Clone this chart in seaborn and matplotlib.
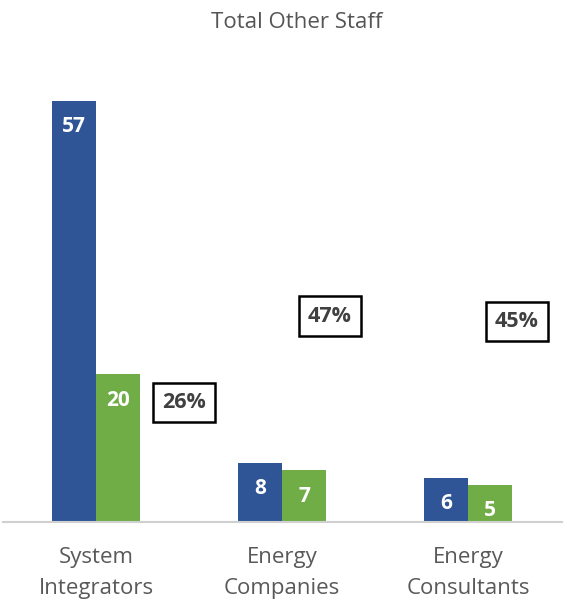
import matplotlib
matplotlib.use("Agg")
import matplotlib.pyplot as plt
import seaborn as sns
import pandas as pd

categories = ["System\nIntegrators", "Energy\nCompanies", "Energy\nConsultants"]
series_names = ["Series 1", "Series 2"]
series1 = [57, 8, 6]
series2 = [20, 7, 5]
pct_labels = ["26%", "47%", "45%"]
pct_x = [0.473, 1.258, 2.263]
pct_y = [16.2, 27.9, 27.1]

df = pd.DataFrame({
    "category": categories * 2,
    "series": [series_names[0]] * 3 + [series_names[1]] * 3,
    "value": series1 + series2,
})

sns.set_theme(style="white")
plt.rcParams["font.family"] = ["Open Sans", "DejaVu Sans"]

fig = plt.figure(figsize=(5.67, 6.04), dpi=100)
ax = fig.add_axes([3 / 567, 82 / 604, 559 / 567, 443 / 604])

sns.barplot(data=df, x="category", y="value", hue="series",
            palette=["#2F5597", "#70AD47"], width=0.475, saturation=1,
            legend=False, ax=ax, linewidth=0)

ax.set_xlim(-0.5, 2.505)
ax.set_ylim(0, 60)
ax.set_xlabel("")
ax.set_ylabel("")
ax.set_yticks([])
for s in ["top", "right", "left"]:
    ax.spines[s].set_visible(False)
ax.spines["bottom"].set_color("#d0d0d0")
ax.spines["bottom"].set_linewidth(1.5)
ax.tick_params(axis="x", length=0, pad=18, labelsize=16, colors="#595959")
for lbl in ax.get_xticklabels():
    lbl.set_linespacing(1.65)

for cont in ax.containers:
    for bar in cont:
        h = bar.get_height()
        x = bar.get_x() + bar.get_width() / 2
        ax.text(x, h - 3.5, f"{int(round(h))}", ha="center", va="center",
                color="white", fontsize=15, fontweight="bold")

for lab, x, y in zip(pct_labels, pct_x, pct_y):
    ax.text(x, y, lab, ha="center", va="center", fontsize=15.5,
            fontweight="bold", color="#404040",
            bbox=dict(boxstyle="square,pad=0.42", fc="white", ec="black", lw=1.8))

fig.text(297 / 567, 1 - 22 / 604, "Total Other Staff", ha="center", va="center",
         fontsize=16, color="#555555")

fig.savefig("out.png", dpi=100)
